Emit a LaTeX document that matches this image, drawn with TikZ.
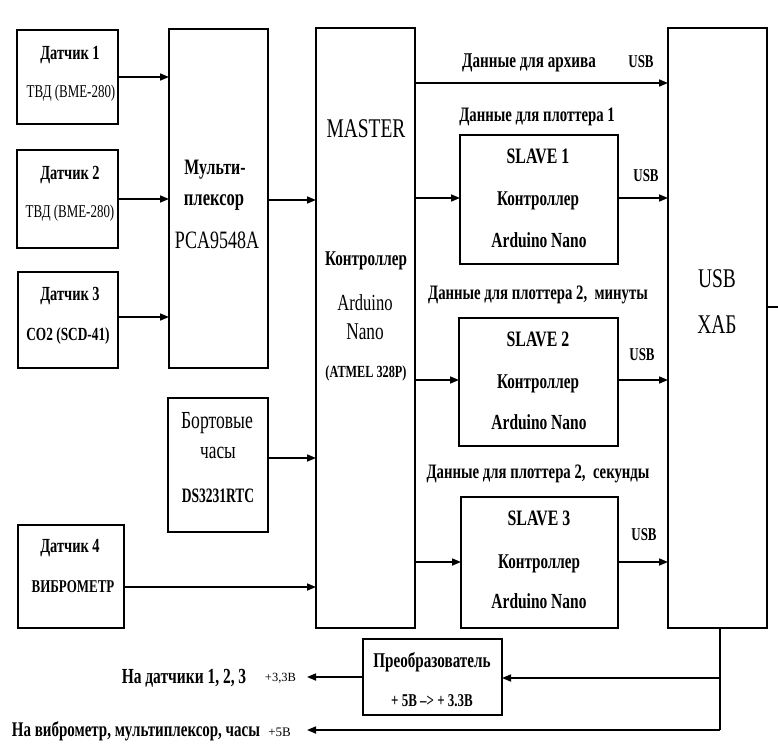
\documentclass[tikz,border=0pt]{standalone}
\usepackage{fontspec}
\setmainfont[FakeStretch=0.72]{Liberation Serif}
\usetikzlibrary{arrows.meta}
\newcommand\fs[1]{\fontsize{#1}{#1}\selectfont}
\newcommand\stretchto[1]{\addfontfeature{FakeStretch=#1}}
\tikzset{
  x=1pt, y=-1pt,
  blk/.style={draw, line width=1.6pt, inner sep=0pt, outer sep=0pt, anchor=north west},
  tx/.style={inner sep=0pt, outer sep=0pt, anchor=base},
  conn/.style={line width=1.6pt},
  arr/.style={line width=1.6pt, -{Triangle[length=9pt,width=7pt]}},
}
\begin{document}
\begin{tikzpicture}
\useasboundingbox (0,0) rectangle (778,744);
% boxes
\node[blk, minimum width=101pt, minimum height=94pt] (d1) at (17,30) {};
\node[blk, minimum width=101pt, minimum height=98pt] (d2) at (17,150) {};
\node[blk, minimum width=100pt, minimum height=96pt] (d3) at (18,272) {};
\node[blk, minimum width=99pt, minimum height=339pt] (mux) at (169,29) {};
\node[blk, minimum width=99pt, minimum height=600pt] (master) at (316,28) {};
\node[blk, minimum width=99pt, minimum height=600pt] (hub) at (668,28) {};
\node[blk, minimum width=158pt, minimum height=129pt] (s1) at (460,135) {};
\node[blk, minimum width=159pt, minimum height=128pt] (s2) at (459,318) {};
\node[blk, minimum width=157pt, minimum height=131pt] (s3) at (461,497) {};
\node[blk, minimum width=100pt, minimum height=134pt] (rtc) at (168,398) {};
\node[blk, minimum width=106pt, minimum height=103pt] (d4) at (18,525) {};
\node[blk, minimum width=139pt, minimum height=76pt] (conv) at (363,639) {};
% texts
\node[tx, font=\fs{20}\bfseries] (t1) at (70,59) {Датчик 1};
\node[tx, font=\fs{18}] (t2) at (71,97) {ТВД (BME-280)};
\node[tx, font=\fs{20}\bfseries] (t3) at (70,179) {Датчик 2};
\node[tx, font=\fs{18}] (t4) at (70,217) {ТВД (BME-280)};
\node[tx, font=\fs{20}\bfseries] (t5) at (70,300) {Датчик 3};
\node[tx, font=\fs{18.5}\bfseries] (t6) at (68,340) {CO2 (SCD-41)};
\node[tx, font=\fs{22}\bfseries] (t7) at (215,174) {Мульти-};
\node[tx, font=\fs{23}\bfseries] (t8) at (214,205) {плексор};
\node[tx, font=\fs{25}] (t9) at (217,248) {PCA9548A};
\node[tx, font=\fs{27}] (t10) at (366,137) {MASTER};
\node[tx, font=\fs{21}\bfseries] (t11) at (366,265) {Контроллер};
\node[tx, font=\fs{23}] (t12) at (365,310) {Arduino};
\node[tx, font=\fs{24}] (t13) at (365,339) {Nano};
\node[tx, font=\fs{17}\bfseries] (t14) at (366,377) {(ATMEL 328P)};
\node[tx, font=\fs{21}\bfseries] (t15) at (529,67) {Данные для архива};
\node[tx, font=\fs{18}\bfseries] (t16) at (641,67) {USB};
\node[tx, font=\fs{20.5}\bfseries] (t17) at (537,121) {Данные для плоттера 1};
\node[tx, font=\fs{22}\bfseries] (t18) at (538,163) {SLAVE 1};
\node[tx, font=\fs{21}\bfseries] (t19) at (538,205) {Контроллер};
\node[tx, font=\fs{21.5}\bfseries] (t20) at (539,247) {Arduino Nano};
\node[tx, font=\fs{18}\bfseries] (t21) at (646,181) {USB};
\node[tx, font=\fs{20.5}\bfseries] (t22) at (538,299) {Данные для плоттера 2,\ \ минуты};
\node[tx, font=\fs{22}\bfseries] (t23) at (538,346) {SLAVE 2};
\node[tx, font=\fs{21}\bfseries] (t24) at (538,388) {Контроллер};
\node[tx, font=\fs{21.5}\bfseries] (t25) at (539,429) {Arduino Nano};
\node[tx, font=\fs{18}\bfseries] (t26) at (642,360) {USB};
\node[tx, font=\fs{20.5}\bfseries] (t27) at (538,478) {Данные для плоттера 2,\ \ секунды};
\node[tx, font=\fs{22}\bfseries] (t28) at (539,525) {SLAVE 3};
\node[tx, font=\fs{21}\bfseries] (t29) at (539,568) {Контроллер};
\node[tx, font=\fs{21.5}\bfseries] (t30) at (539,608) {Arduino Nano};
\node[tx, font=\fs{18}\bfseries] (t31) at (644,540) {USB};
\node[tx, font=\fs{27}] (t32) at (717,287) {USB};
\node[tx, font=\fs{27}] (t33) at (717,333) {ХАБ};
\node[tx, font=\fs{24.5}] (t34) at (217,428) {Бортовые};
\node[tx, font=\fs{24}] (t35) at (218,458) {часы};
\node[tx, font=\fs{20.5}\bfseries\stretchto{0.66}] (t36) at (218,502) {DS3231RTC};
\node[tx, font=\fs{20}\bfseries] (t37) at (70,552) {Датчик 4};
\node[tx, font=\fs{18}\bfseries] (t38) at (73,592) {ВИБРОМЕТР};
\node[tx, font=\fs{21}\bfseries] (t39) at (432,667) {Преобразователь};
\node[tx, font=\fs{18}\bfseries] (t40) at (432,706) {+ 5В --> + 3.3В};
\node[tx, font=\fs{21.5}\bfseries] (t41) at (184,683) {На датчики 1, 2, 3};
\node[tx, font=\fs{12.5}\stretchto{1}] (t42) at (280.5,681) {+3,3В};
\node[tx, font=\fs{20.8}\bfseries] (t43) at (136,736) {На виброметр, мультиплексор, часы};
\node[tx, font=\fs{13}\stretchto{1}] (t44) at (279.5,736) {+5В};
% free-end coordinates
\coordinate (archy) at (0,83);
\coordinate (rtcy) at (0,458);
\coordinate (d4y) at (0,587);
\coordinate (hubr) at (767,307);
\coordinate (edge) at (778,307);
\coordinate (pwr) at (720,730);
\coordinate (pwrb) at (720,678);
\coordinate (out33) at (307,677);
\coordinate (out5) at (307,730);
% connectors
\draw[arr] (d1.east) -- (d1.east -| mux.west);
\draw[arr] (d2.east) -- (d2.east -| mux.west);
\draw[arr] (d3.east |- 0,317) -- (mux.west |- 0,317);
\draw[arr] (mux.east |- 0,200) -- (master.west |- 0,200);
\draw[arr] (rtc.east |- rtcy) -- (master.west |- rtcy);
\draw[arr] (d4.east |- d4y) -- (master.west |- d4y);
\draw[arr] (master.east |- archy) -- (hub.west |- archy);
\draw[arr] (master.east |- 0,198) -- (s1.west |- 0,198);
\draw[arr] (s1.east |- 0,198) -- (hub.west |- 0,198);
\draw[arr] (master.east |- 0,380) -- (s2.west |- 0,380);
\draw[arr] (s2.east |- 0,380) -- (hub.west |- 0,380);
\draw[arr] (master.east |- 0,562) -- (s3.west |- 0,562);
\draw[arr] (s3.east |- 0,562) -- (hub.west |- 0,562);
\draw[conn] (hubr) -- (edge);
\draw[conn] (hub.south -| pwr) -- (pwr);
\draw[arr] (pwrb) -- (conv.east |- pwrb);
\draw[arr] (pwr) -- (out5);
\draw[arr] (conv.west |- out33) -- (out33);
\end{tikzpicture}
\end{document}
